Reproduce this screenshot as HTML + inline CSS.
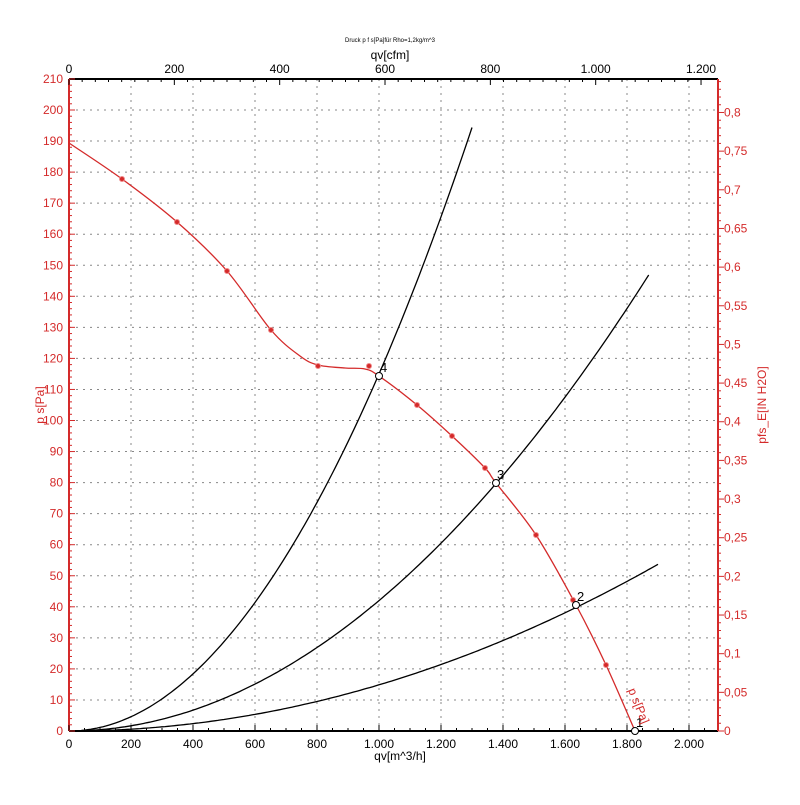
<!DOCTYPE html>
<html><head><meta charset="utf-8"><style>
body{margin:0;background:#fff;}
svg text{font-family:"Liberation Sans",sans-serif;}
</style></head><body>
<svg id="s" width="800" height="800" xmlns="http://www.w3.org/2000/svg"></svg>
<script>
const s=document.getElementById('s');
const X=q=>69+q*0.31, Y=p=>731-p*3.105;
let h='';
const R='#d42a2a';
// grid
for(let q=200;q<=2000;q+=200)h+=`<line x1="${X(q)}" y1="79" x2="${X(q)}" y2="731" stroke="#888" stroke-dasharray="2,5"/>`;
for(let p=10;p<=200;p+=10)h+=`<line x1="69" y1="${Y(p)}" x2="718" y2="${Y(p)}" stroke="#888" stroke-dasharray="2,5"/>`;
// axes
h+=`<line x1="69" y1="79" x2="718" y2="79" stroke="#000" stroke-width="2"/>`;
h+=`<line x1="69" y1="731" x2="718" y2="731" stroke="#000" stroke-width="2"/>`;
h+=`<line x1="69" y1="79" x2="69" y2="731" stroke="${R}" stroke-width="2"/>`;
h+=`<line x1="718" y1="79" x2="718" y2="731" stroke="${R}" stroke-width="2"/>`;
// bottom ticks
for(let q=0;q<=2080;q+=50){let t=q%200==0?6:3;h+=`<line x1="${X(q)}" y1="731" x2="${X(q)}" y2="${731-t}" stroke="#000"/>`;}
const fmt=n=>n>=1000?(Math.floor(n/1000)+'.'+String(n%1000).padStart(3,'0')):String(n);
for(let q=0;q<=2000;q+=200)h+=`<text x="${X(q)}" y="748" font-size="12" text-anchor="middle">${fmt(q)}</text>`;
// top cfm
for(let c=0;c<=1220;c+=25){let x=69+c*1.699*0.31;if(x>718)break;let t=c%200==0?6:3;h+=`<line x1="${x}" y1="79" x2="${x}" y2="${79+t}" stroke="#000"/>`;}
for(let c=0;c<=1200;c+=200){let x=69+c*1.699*0.31;h+=`<text x="${x}" y="73" font-size="12" text-anchor="middle">${fmt(c)}</text>`;}
// left ticks
for(let p=0;p<=210;p+=2){let t=p%10==0?6:3;h+=`<line x1="69" y1="${Y(p)}" x2="${69+t}" y2="${Y(p)}" stroke="${R}"/>`;}
for(let p=0;p<=210;p+=10)h+=`<text x="63" y="${Y(p)+4}" font-size="12" fill="${R}" text-anchor="end">${p}</text>`;
// right ticks
for(let i=0;i<=84;i++){let v=i*0.01;let y=731-v*249*3.105;if(y<79)break;let t=i%5==0?6:3;h+=`<line x1="718" y1="${y}" x2="${718+t}" y2="${y}" stroke="${R}"/>`;}
for(let i=0;i<=16;i++){let v=i*0.05;let y=731-v*249*3.105;let l=i==0?'0':(Math.round(v*100)/100).toString().replace('.',',');h+=`<text x="724" y="${y+4}" font-size="12" fill="${R}">${l}</text>`;}
// labels
h+=`<text x="390" y="42" font-size="6" text-anchor="middle">Druck p f s[Pa]für Rho=1,2kg/m^3</text>`;
h+=`<text x="390" y="59" font-size="12" text-anchor="middle">qv[cfm]</text>`;
h+=`<text x="400" y="760" font-size="12" text-anchor="middle">qv[m^3/h]</text>`;
h+=`<text x="44" y="405" font-size="12" fill="${R}" text-anchor="middle" transform="rotate(-90 44 405)">p s[Pa]</text>`;
h+=`<text x="766" y="405" font-size="12" fill="${R}" text-anchor="middle" transform="rotate(-90 766 405)">pfs_E[IN H2O]</text>`;
// system curves
[[1.15e-4,1300],[4.2e-5,1877],[1.487e-5,1905]].forEach(([k,qm])=>{let d='';for(let q=40;q<=qm;q+=10){d+=(d?'L':'M')+X(q).toFixed(1)+','+Y(k*q*q).toFixed(1);}h+=`<path d="${d}" fill="none" stroke="#000" stroke-width="1.3"/>`;});
// fan curve
const pts=[[69,143],[122,179],[177,222],[227,271],[271,330],[300,356],[318,365],[345,368],[365,369],[379,376],[417,405],[452,436],[485,468],[496,483],[536,535],[576,605],[606,665],[635,731]];
let d='M'+pts[0];
for(let i=0;i<pts.length-1;i++){const p0=pts[Math.max(0,i-1)],p1=pts[i],p2=pts[i+1],p3=pts[Math.min(pts.length-1,i+2)];
d+=`C${p1[0]+(p2[0]-p0[0])/6},${p1[1]+(p2[1]-p0[1])/6} ${p2[0]-(p3[0]-p1[0])/6},${p2[1]-(p3[1]-p1[1])/6} ${p2[0]},${p2[1]}`;}
h+=`<path d="${d}" fill="none" stroke="${R}" stroke-width="1.3"/>`;
[[122,179],[177,222],[227,271],[271,330],[318,366],[369,366],[417,405],[452,436],[485,468],[536,535],[573,600],[606,665]].forEach(p=>h+=`<circle cx="${p[0]}" cy="${p[1]}" r="2.5" fill="${R}" stroke="#e88" />`);
[[379,376,'4'],[496,483,'3'],[576,605,'2'],[635,731,'1']].forEach(p=>{h+=`<circle cx="${p[0]}" cy="${p[1]}" r="3.5" fill="#fff" stroke="#000"/><text x="${p[0]+1}" y="${p[1]-4}" font-size="13">${p[2]}</text>`;});
h+=`<text x="628" y="690" font-size="12" fill="${R}" transform="rotate(68 628 690)">p s[Pa]</text>`;
s.innerHTML=h;
</script>
</body></html>
